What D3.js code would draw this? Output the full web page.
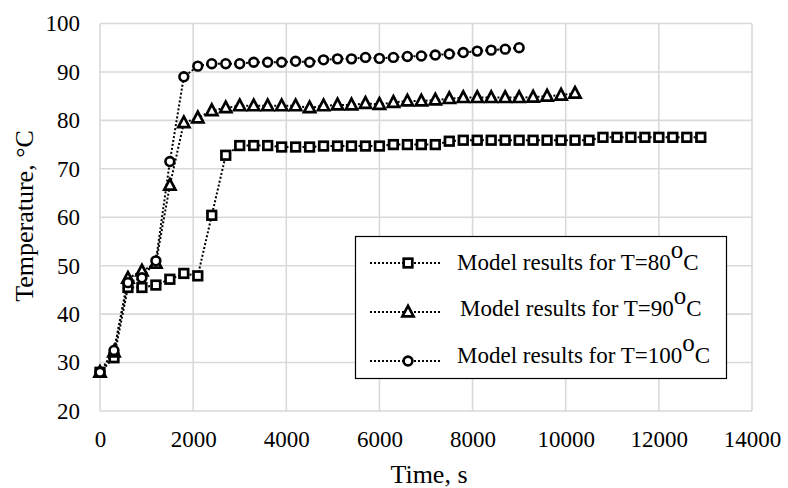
<!DOCTYPE html>
<html><head><meta charset="utf-8">
<script src="https://cdn.jsdelivr.net/npm/d3@7"></script>
<style>body{margin:0;background:#fff}svg{display:block}text{font-family:"Liberation Serif","Times New Roman",serif;fill:#000}</style>
</head><body><svg id="c" width="788" height="488"></svg>
<script>
const xTicks = [0,2000,4000,6000,8000,10000,12000,14000];
const yTicks = [20,30,40,50,60,70,80,90,100];
const time80 = d3.range(0, 12901, 300);
const temp80 = [28,31,45.5,45.5,46,47.2,48.4,47.9,60.4,72.8,74.8,74.8,74.8,74.5,74.5,74.5,74.7,74.7,74.7,74.7,74.7,75,75,75,75,75.7,75.9,75.9,75.9,75.9,75.9,75.9,75.9,75.9,75.9,75.9,76.5,76.5,76.5,76.5,76.5,76.5,76.5,76.5];
const time90 = d3.range(0, 10201, 300);
const temp90 = [28,32.2,47.4,48.9,50.5,66.6,79.5,80.5,82,82.6,83,83,83,83,83,82.6,83,83.2,83.2,83.5,83.3,83.7,84,84,84.2,84.5,84.7,84.7,84.7,84.7,84.7,84.8,85,85.2,85.6];
const time100 = d3.range(0, 9001, 300);
const temp100 = [28,32.5,46.5,47.5,51,71.5,89,91.2,91.7,91.7,91.7,92,92,92,92.2,92,92.5,92.7,92.7,93,92.8,93,93.2,93.3,93.5,93.7,94,94.3,94.5,94.7,95];
const seriesNames = ["80","90","100"];

const svg = d3.select("#c");
const x = d3.scaleLinear().domain([0,14000]).range([100,752]);
const y = d3.scaleLinear().domain([20,100]).range([411,23.5]);
const FONT = "Liberation Serif";

// grid
const g = svg.append("g");
g.selectAll(".vg").data(xTicks).join("line").attr("x1",d=>x(d)).attr("x2",d=>x(d)).attr("y1",y(20)).attr("y2",y(100)).attr("stroke","#d9d9d9").attr("stroke-width",1.6);
g.selectAll(".hg").data(yTicks).join("line").attr("x1",x(0)).attr("x2",x(14000)).attr("y1",d=>y(d)).attr("y2",d=>y(d)).attr("stroke","#d9d9d9").attr("stroke-width",1.6);

// axes labels
const xa = svg.append("g").attr("transform",`translate(0,${y(20)})`).call(d3.axisBottom(x).tickValues(xTicks).tickSize(0).tickPadding(20).tickFormat(d3.format("d")));
xa.attr("font-family",FONT).attr("font-size",23);
xa.select(".domain").remove();
xa.selectAll("text").attr("fill","#000");
const ya = svg.append("g").attr("transform",`translate(${x(0)},0)`).call(d3.axisLeft(y).tickValues(yTicks).tickSize(0).tickPadding(20));
ya.attr("font-family",FONT).attr("font-size",23);
ya.select(".domain").remove();
ya.selectAll("text").attr("fill","#000");

svg.append("text").attr("x",429).attr("y",483).attr("text-anchor","middle").attr("font-size",26).text("Time, s");
svg.append("text").attr("transform","translate(33,216) rotate(-90)").attr("text-anchor","middle").attr("font-size",26).text("Temperature, °C");

const data = [
  {name:"80", t:time80, v:temp80, shape:"square"},
  {name:"90", t:time90, v:temp90, shape:"triangle"},
  {name:"100", t:time100, v:temp100, shape:"circle"}
];
const line = d3.line().x(d=>x(d[0])).y(d=>y(d[1]));

function marker(sel, shape){
  if(shape==="square"){
    sel.append("rect").attr("x",-4.3).attr("y",-4.3).attr("width",8.6).attr("height",8.6).attr("fill","#fff").attr("stroke","#000").attr("stroke-width",2.7);
  } else if(shape==="triangle"){
    sel.append("path").attr("d","M0,-6.2L5.6,4.4L-5.6,4.4Z").attr("fill","#fff").attr("stroke","#000").attr("stroke-width",2.7).attr("stroke-linejoin","miter");
  } else {
    sel.append("circle").attr("r",4.4).attr("fill","#fff").attr("stroke","#000").attr("stroke-width",2.6);
  }
}

data.forEach(s=>{
  const pts = s.t.map((t,i)=>[t,s.v[i]]);
  svg.append("path").attr("d",line(pts)).attr("fill","none").attr("stroke","#000").attr("stroke-width",2).attr("stroke-dasharray","2,2");
});
data.forEach(s=>{
  const pts = s.t.map((t,i)=>[t,s.v[i]]);
  svg.append("g").selectAll("g").data(pts).join("g").attr("transform",d=>`translate(${x(d[0])},${y(d[1])})`).each(function(){marker(d3.select(this), s.shape);});
});

// legend
const lg = svg.append("g");
lg.append("rect").attr("x",355.5).attr("y",236.5).attr("width",371).attr("height",142).attr("fill","#fff").attr("stroke","#000").attr("stroke-width",1.2);
const ly = [263,312,361];
const lb = [270,316,363];
const lx = [457,460,457];
data.forEach((s,i)=>{
  lg.append("line").attr("x1",370).attr("x2",441).attr("y1",ly[i]).attr("y2",ly[i]).attr("stroke","#000").attr("stroke-width",2).attr("stroke-dasharray","2,2");
  const m = lg.append("g").attr("transform",`translate(408,${ly[i]})`);
  marker(m, s.shape);
  const tx = lg.append("text").attr("x", lx[i]).attr("y",lb[i]).attr("font-size",23);
  tx.append("tspan").text("Model results for T="+s.name);
  tx.append("tspan").attr("dy",-12).attr("font-size",25).text("o");
  tx.append("tspan").attr("dy",12).text("C");
});
</script></body></html>
